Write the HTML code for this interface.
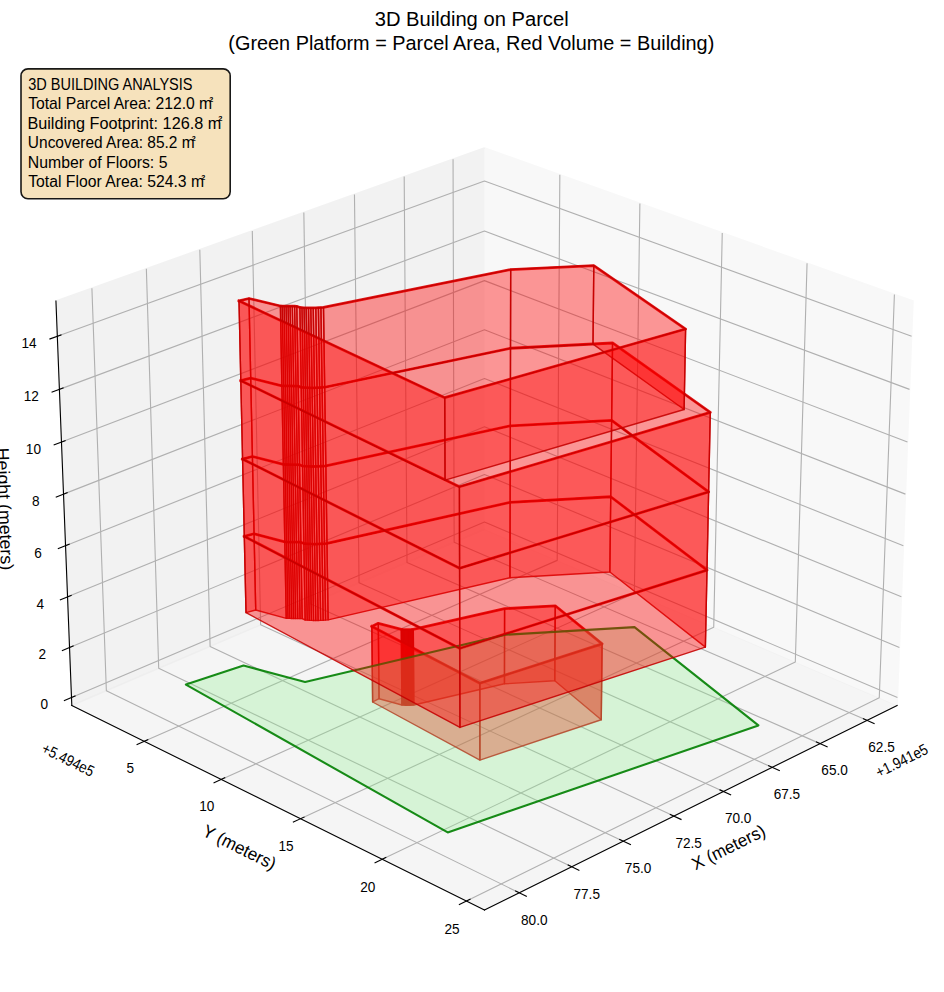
<!DOCTYPE html>
<html><head><meta charset="utf-8"><title>3D Building on Parcel</title>
<style>html,body{margin:0;padding:0;background:#fff;} svg text{font-family:"Liberation Sans", sans-serif;}</style></head>
<body><svg width="944" height="992" viewBox="0 0 944 992" style="display:block">
<rect width="944" height="992" fill="#fff"/>
<svg x="0" y="0" width="944" height="992" viewBox="213.674 62.244 679.680 714.240" version="1.1">
 
 <defs>
  <style type="text/css">*{stroke-linejoin: round; stroke-linecap: butt}</style>
 </defs>
 <g id="figure_1">
  <g id="patch_1">
   <path d="M 0 864 
L 1080 864 
L 1080 0 
L 0 0 
z
" style="fill: #ffffff"/>
  </g>
  <g id="patch_2">
   <path d="M 220.86 768.96 
L 886.14 768.96 
L 886.14 103.68 
L 220.86 103.68 
z
" style="fill: #ffffff"/>
  </g>
  <g id="pane3d_1">
   <g id="patch_3">
    <path d="M 562.49027 443.368424 
L 859.602828 570.134589 
L 871.029594 279.032684 
L 562.49027 168.745698 
" style="fill: #f2f2f2; opacity: 0.5; stroke: #f2f2f2; stroke-linejoin: miter"/>
   </g>
  </g>
  <g id="pane3d_2">
   <g id="patch_4">
    <path d="M 562.49027 443.368424 
L 265.377712 570.134589 
L 253.950947 279.032684 
L 562.49027 168.745698 
" style="fill: #e6e6e6; opacity: 0.5; stroke: #e6e6e6; stroke-linejoin: miter"/>
   </g>
  </g>
  <g id="pane3d_3">
   <g id="patch_5">
    <path d="M 562.49027 443.368424 
L 265.377712 570.134589 
L 562.49027 717.421782 
L 859.602828 570.134589 
" style="fill: #ececec; opacity: 0.5; stroke: #ececec; stroke-linejoin: miter"/>
   </g>
  </g>
  <g id="grid3d_1">
   <g id="Line3DCollection_1">
    <path d="M 837.884604 580.900934 
L 540.658584 452.68314 
L 539.87509 176.829465 
" style="fill: none; stroke: #b0b0b0; stroke-width: 0.8"/>
    <path d="M 804.079607 597.659038 
L 506.71275 467.166483 
L 504.693361 189.405129 
" style="fill: none; stroke: #b0b0b0; stroke-width: 0.8"/>
    <path d="M 769.649914 614.726822 
L 472.184312 481.898401 
L 468.885761 202.20451 
" style="fill: none; stroke: #b0b0b0; stroke-width: 0.8"/>
    <path d="M 734.578047 632.112949 
L 437.05814 496.885348 
L 432.435439 215.233631 
" style="fill: none; stroke: #b0b0b0; stroke-width: 0.8"/>
    <path d="M 698.84587 649.826411 
L 401.318579 512.134003 
L 395.324934 228.498733 
" style="fill: none; stroke: #b0b0b0; stroke-width: 0.8"/>
    <path d="M 662.434559 667.876539 
L 364.949419 527.651284 
L 357.536145 242.006287 
" style="fill: none; stroke: #b0b0b0; stroke-width: 0.8"/>
    <path d="M 625.324566 686.273024 
L 327.933876 543.444351 
L 319.050307 255.763001 
" style="fill: none; stroke: #b0b0b0; stroke-width: 0.8"/>
    <path d="M 587.495587 705.025931 
L 290.254564 559.520621 
L 279.847951 269.775833 
" style="fill: none; stroke: #b0b0b0; stroke-width: 0.8"/>
   </g>
  </g>
  <g id="grid3d_2">
   <g id="Line3DCollection_2">
    <path d="M 616.75297 188.14183 
L 614.85867 465.711947 
L 317.503999 595.97508 
" style="fill: none; stroke: #b0b0b0; stroke-width: 0.8"/>
    <path d="M 674.386291 208.742787 
L 670.426032 489.42034 
L 372.92735 623.450021 
" style="fill: none; stroke: #b0b0b0; stroke-width: 0.8"/>
    <path d="M 733.695285 229.942711 
L 727.551018 513.79331 
L 430.02584 651.755375 
" style="fill: none; stroke: #b0b0b0; stroke-width: 0.8"/>
    <path d="M 794.75411 251.76811 
L 786.300052 538.859197 
L 488.876577 680.929369 
" style="fill: none; stroke: #b0b0b0; stroke-width: 0.8"/>
    <path d="M 857.641366 274.247079 
L 846.743392 564.647977 
L 549.56148 711.012611 
" style="fill: none; stroke: #b0b0b0; stroke-width: 0.8"/>
   </g>
  </g>
  <g id="grid3d_3">
   <g id="Line3DCollection_3">
    <path d="M 265.157478 564.524015 
L 562.49027 438.061555 
L 859.823063 564.524015 
" style="fill: none; stroke: #b0b0b0; stroke-width: 0.8"/>
    <path d="M 263.740208 528.418437 
L 562.49027 403.923514 
L 861.240333 528.418437 
" style="fill: none; stroke: #b0b0b0; stroke-width: 0.8"/>
    <path d="M 262.309362 491.967008 
L 562.49027 369.481467 
L 862.671179 491.967008 
" style="fill: none; stroke: #b0b0b0; stroke-width: 0.8"/>
    <path d="M 260.864744 455.164734 
L 562.49027 334.731336 
L 864.115796 455.164734 
" style="fill: none; stroke: #b0b0b0; stroke-width: 0.8"/>
    <path d="M 259.406155 418.006527 
L 562.49027 299.668969 
L 865.574386 418.006527 
" style="fill: none; stroke: #b0b0b0; stroke-width: 0.8"/>
    <path d="M 257.93339 380.487197 
L 562.49027 264.290137 
L 867.04715 380.487197 
" style="fill: none; stroke: #b0b0b0; stroke-width: 0.8"/>
    <path d="M 256.446243 342.601454 
L 562.49027 228.590538 
L 868.534298 342.601454 
" style="fill: none; stroke: #b0b0b0; stroke-width: 0.8"/>
    <path d="M 254.9445 304.343904 
L 562.49027 192.565789 
L 870.03604 304.343904 
" style="fill: none; stroke: #b0b0b0; stroke-width: 0.8"/>
   </g>
  </g>
  <g id="axis3d_1">
   <g id="line2d_1">
    <path d="M 859.602828 570.134589 
L 562.49027 717.421782 
" style="fill: none; stroke: #000000; stroke-width: 0.8; stroke-linecap: square"/>
   </g>
   <g id="xtick_1">
    <g id="line2d_2">
     <path d="M 835.329233 579.798594 
L 843.004597 583.109604 
" style="fill: none; stroke: #000000; stroke-width: 0.8; stroke-linecap: square"/>
    </g>
   </g>
   <g id="xtick_2">
    <g id="line2d_3">
     <path d="M 801.521399 596.536428 
L 809.205367 599.908359 
" style="fill: none; stroke: #000000; stroke-width: 0.8; stroke-linecap: square"/>
    </g>
   </g>
   <g id="xtick_3">
    <g id="line2d_4">
     <path d="M 767.089201 613.583377 
L 774.78078 617.017927 
" style="fill: none; stroke: #000000; stroke-width: 0.8; stroke-linecap: square"/>
    </g>
   </g>
   <g id="xtick_4">
    <g id="line2d_5">
     <path d="M 732.015179 630.948085 
L 739.713319 634.447013 
" style="fill: none; stroke: #000000; stroke-width: 0.8; stroke-linecap: square"/>
    </g>
   </g>
   <g id="xtick_5">
    <g id="line2d_6">
     <path d="M 696.28122 648.639519 
L 703.984804 652.204654 
" style="fill: none; stroke: #000000; stroke-width: 0.8; stroke-linecap: square"/>
    </g>
   </g>
   <g id="xtick_6">
    <g id="line2d_7">
     <path d="M 659.868521 666.666989 
L 667.576366 670.300227 
" style="fill: none; stroke: #000000; stroke-width: 0.8; stroke-linecap: square"/>
    </g>
   </g>
   <g id="xtick_7">
    <g id="line2d_8">
     <path d="M 622.757559 685.04016 
L 630.46841 688.743472 
" style="fill: none; stroke: #000000; stroke-width: 0.8; stroke-linecap: square"/>
    </g>
   </g>
   <g id="xtick_8">
    <g id="line2d_9">
     <path d="M 584.928053 703.769073 
L 592.64058 707.544506 
" style="fill: none; stroke: #000000; stroke-width: 0.8; stroke-linecap: square"/>
    </g>
   </g>
  </g>
  <g id="axis3d_2">
   <g id="line2d_10">
    <path d="M 265.377712 570.134589 
L 562.49027 717.421782 
" style="fill: none; stroke: #000000; stroke-width: 0.8; stroke-linecap: square"/>
   </g>
   <g id="xtick_9">
    <g id="line2d_11">
     <path d="M 320.061938 594.854515 
L 312.378785 598.2203 
" style="fill: none; stroke: #000000; stroke-width: 0.8; stroke-linecap: square"/>
    </g>
   </g>
   <g id="xtick_10">
    <g id="line2d_12">
     <path d="M 375.489195 622.295854 
L 367.794173 625.76263 
" style="fill: none; stroke: #000000; stroke-width: 0.8; stroke-linecap: square"/>
    </g>
   </g>
   <g id="xtick_11">
    <g id="line2d_13">
     <path d="M 432.590659 650.566071 
L 424.886557 654.138454 
" style="fill: none; stroke: #000000; stroke-width: 0.8; stroke-linecap: square"/>
    </g>
   </g>
   <g id="xtick_12">
    <g id="line2d_14">
     <path d="M 491.44335 679.7033 
L 483.733233 683.386188 
" style="fill: none; stroke: #000000; stroke-width: 0.8; stroke-linecap: square"/>
    </g>
   </g>
   <g id="xtick_13">
    <g id="line2d_15">
     <path d="M 552.129084 709.748044 
L 544.416317 713.546648 
" style="fill: none; stroke: #000000; stroke-width: 0.8; stroke-linecap: square"/>
    </g>
   </g>
  </g>
  <g id="axis3d_3">
   <g id="line2d_16">
    <path d="M 265.377712 570.134589 
L 253.950947 279.032684 
" style="fill: none; stroke: #000000; stroke-width: 0.8; stroke-linecap: square"/>
   </g>
   <g id="xtick_14">
    <g id="line2d_17">
     <path d="M 267.712854 563.437155 
L 260.037523 566.701649 
" style="fill: none; stroke: #000000; stroke-width: 0.8; stroke-linecap: square"/>
    </g>
   </g>
   <g id="xtick_15">
    <g id="line2d_18">
     <path d="M 266.30861 527.348134 
L 258.59411 530.562915 
" style="fill: none; stroke: #000000; stroke-width: 0.8; stroke-linecap: square"/>
    </g>
   </g>
   <g id="xtick_16">
    <g id="line2d_19">
     <path d="M 264.890923 490.91363 
L 257.136853 494.077593 
" style="fill: none; stroke: #000000; stroke-width: 0.8; stroke-linecap: square"/>
    </g>
   </g>
   <g id="xtick_17">
    <g id="line2d_20">
     <path d="M 263.4596 454.128657 
L 255.665553 457.240674 
" style="fill: none; stroke: #000000; stroke-width: 0.8; stroke-linecap: square"/>
    </g>
   </g>
   <g id="xtick_18">
    <g id="line2d_21">
     <path d="M 262.014442 416.988135 
L 254.180006 420.047049 
" style="fill: none; stroke: #000000; stroke-width: 0.8; stroke-linecap: square"/>
    </g>
   </g>
   <g id="xtick_19">
    <g id="line2d_22">
     <path d="M 260.555248 379.486884 
L 252.680004 382.491512 
" style="fill: none; stroke: #000000; stroke-width: 0.8; stroke-linecap: square"/>
    </g>
   </g>
   <g id="xtick_20">
    <g id="line2d_23">
     <path d="M 259.081812 341.619623 
L 251.165335 344.568756 
" style="fill: none; stroke: #000000; stroke-width: 0.8; stroke-linecap: square"/>
    </g>
   </g>
   <g id="xtick_21">
    <g id="line2d_24">
     <path d="M 257.593925 303.380966 
L 249.635783 306.273368 
" style="fill: none; stroke: #000000; stroke-width: 0.8; stroke-linecap: square"/>
    </g>
   </g>
  </g>
  <g id="axes_1">
   <g id="line2d_25">
    <path d="M 481.391568 513.322707 
L 486.0504 511.02 
L 502.6104 515.412 
L 503.4744 515.478748 
L 504.3384 515.538962 
L 505.2024 515.586748 
L 506.0664 515.617428 
L 506.9304 515.628 
L 507.7944 515.617428 
L 508.6584 515.586748 
L 509.5224 515.538962 
L 510.3864 515.478748 
L 511.2504 515.412 
L 576.980005 500.510174 
L 613.455499 498.402698 
L 647.185732 525.797838 
L 559.178183 554.162051 
L 481.391568 513.322707 
" clip-path="url(#p2ee48c2b78)" style="fill: none; stroke: #e00000; stroke-opacity: 0.9; stroke-width: 2; stroke-linecap: square"/>
   </g>
   <g id="line2d_26">
    <path d="M 389.566743 448.4457 
L 396.607387 446.567374 
L 418.739208 452.436839 
L 420.007241 452.466184 
L 421.345716 452.495529 
L 422.754633 452.524874 
L 424.163549 452.554219 
L 425.572464 452.583564 
L 427.122264 452.612909 
L 428.742506 452.642254 
L 430.292304 452.671599 
L 432.477623 453.610625 
L 433.957098 453.723704 
L 435.436548 453.824948 
L 436.9864 453.903681 
L 438.536199 453.951429 
L 440.15638 453.962753 
L 441.846942 453.935779 
L 443.678333 453.87238 
L 445.50968 453.777998 
L 447.270556 453.661103 
L 449.101861 453.532373 
L 580.970412 423.90573 
L 653.405768 419.903237 
L 722.712946 472.685665 
L 544.716289 529.11016 
L 389.566743 448.4457 
" clip-path="url(#p2ee48c2b78)" style="fill: none; stroke: #e00000; stroke-opacity: 0.9; stroke-width: 2; stroke-linecap: square"/>
   </g>
   <g id="line2d_27">
    <path d="M 388.314369 392.746446 
L 395.407343 390.916592 
L 417.695647 396.634688 
L 418.972867 396.663277 
L 420.321041 396.691866 
L 421.740169 396.720455 
L 423.159296 396.749044 
L 424.578423 396.777633 
L 426.139457 396.806222 
L 427.771446 396.83481 
L 429.332479 396.863399 
L 431.53314 397.778237 
L 433.0233 397.888404 
L 434.513444 397.987041 
L 436.074513 398.063746 
L 437.635547 398.110264 
L 439.267494 398.121297 
L 440.970354 398.095017 
L 442.815084 398.033251 
L 444.659785 397.941299 
L 446.433512 397.827415 
L 448.278184 397.702001 
L 581.102304 368.842057 
L 654.053063 364.943703 
L 723.890023 416.363512 
L 544.581402 471.356977 
L 388.314369 392.746446 
" clip-path="url(#p2ee48c2b78)" style="fill: none; stroke: #e00000; stroke-opacity: 0.9; stroke-width: 2; stroke-linecap: square"/>
   </g>
   <g id="line2d_28">
    <path d="M 387.043722 336.234518 
L 394.189809 334.454754 
L 416.636823 340.01642 
L 417.923365 340.044228 
L 419.281379 340.072035 
L 420.710867 340.099843 
L 422.140355 340.12765 
L 423.569842 340.155458 
L 425.142275 340.183266 
L 426.786182 340.211073 
L 428.358614 340.238881 
L 430.574834 341.128719 
L 432.075835 341.235876 
L 433.576827 341.331818 
L 435.149278 341.406427 
L 436.721711 341.451675 
L 438.365597 341.462406 
L 440.080935 341.436845 
L 441.9392 341.376766 
L 443.79745 341.287326 
L 445.584217 341.176554 
L 447.442452 341.054566 
L 581.236092 312.986762 
L 654.709642 309.19596 
L 725.084523 359.207693 
L 544.444452 412.720512 
L 387.043722 336.234518 
" clip-path="url(#p2ee48c2b78)" style="fill: none; stroke: #e00000; stroke-opacity: 0.9; stroke-width: 2; stroke-linecap: square"/>
   </g>
   <g id="line2d_29">
    <path d="M 385.7544 278.892 
L 392.9544 277.164 
L 415.5624 282.564 
L 416.8584 282.591 
L 418.2264 282.618 
L 419.6664 282.645 
L 421.1064 282.672 
L 422.5464 282.699 
L 424.1304 282.726 
L 425.7864 282.753 
L 427.3704 282.78 
L 429.6024 283.644 
L 431.1144 283.748046 
L 432.6264 283.841203 
L 434.2104 283.913646 
L 435.7944 283.95758 
L 437.4504 283.968 
L 439.1784 283.94318 
L 441.0504 283.884846 
L 442.9224 283.798003 
L 444.7224 283.690446 
L 446.5944 283.572 
L 581.371817 256.32265 
L 641.212655 253.430659 
L 707.31473 299.138283 
L 533.906954 348.584156 
L 385.7544 278.892 
" clip-path="url(#p2ee48c2b78)" style="fill: none; stroke: #e00000; stroke-opacity: 0.9; stroke-width: 2; stroke-linecap: square"/>
   </g>
   <g id="Poly3DCollection_1">
    <path d="M 576.877462 554.568841 
L 613.095252 552.411624 
L 613.455499 498.402698 
L 576.980005 500.510174 
z
" clip-path="url(#p2ee48c2b78)" style="fill: #ff0000; fill-opacity: 0.4; stroke: #c40000; stroke-opacity: 0.87"/>
    <path d="M 511.616088 569.821339 
L 576.877462 554.568841 
L 576.980005 500.510174 
L 511.2504 515.412 
z
" clip-path="url(#p2ee48c2b78)" style="fill: #ff0000; fill-opacity: 0.4; stroke: #c40000; stroke-opacity: 0.87"/>
    <path d="M 613.095252 552.411624 
L 646.577748 580.450491 
L 647.185732 525.797838 
L 613.455499 498.402698 
z
" clip-path="url(#p2ee48c2b78)" style="fill: #ff0000; fill-opacity: 0.4; stroke: #c40000; stroke-opacity: 0.87"/>
    <path d="M 481.969671 567.682991 
L 486.594586 565.326177 
L 486.0504 511.02 
L 481.391568 513.322707 
z
" clip-path="url(#p2ee48c2b78)" style="fill: #ff0000; fill-opacity: 0.4; stroke: #c40000; stroke-opacity: 0.87"/>
    <path d="M 486.594586 565.326177 
L 503.037749 569.821339 
L 502.6104 515.412 
L 486.0504 511.02 
z
" clip-path="url(#p2ee48c2b78)" style="fill: #ff0000; fill-opacity: 0.4; stroke: #c40000; stroke-opacity: 0.87"/>
    <path d="M 503.037749 569.821339 
L 503.895599 569.889653 
L 503.4744 515.478748 
L 502.6104 515.412 
z
" clip-path="url(#p2ee48c2b78)" style="fill: #ff0000; fill-opacity: 0.4; stroke: #c40000; stroke-opacity: 0.87"/>
    <path d="M 510.758268 569.889653 
L 511.616088 569.821339 
L 511.2504 515.412 
L 510.3864 515.478748 
z
" clip-path="url(#p2ee48c2b78)" style="fill: #ff0000; fill-opacity: 0.4; stroke: #c40000; stroke-opacity: 0.87"/>
    <path d="M 503.895599 569.889653 
L 504.753447 569.95128 
L 504.3384 515.538962 
L 503.4744 515.478748 
z
" clip-path="url(#p2ee48c2b78)" style="fill: #ff0000; fill-opacity: 0.4; stroke: #c40000; stroke-opacity: 0.87"/>
    <path d="M 509.900447 569.95128 
L 510.758268 569.889653 
L 510.3864 515.478748 
L 509.5224 515.538962 
z
" clip-path="url(#p2ee48c2b78)" style="fill: #ff0000; fill-opacity: 0.4; stroke: #c40000; stroke-opacity: 0.87"/>
    <path d="M 504.753447 569.95128 
L 505.611291 570.000188 
L 505.2024 515.586748 
L 504.3384 515.538962 
z
" clip-path="url(#p2ee48c2b78)" style="fill: #ff0000; fill-opacity: 0.4; stroke: #c40000; stroke-opacity: 0.87"/>
    <path d="M 509.042624 570.000188 
L 509.900447 569.95128 
L 509.5224 515.538962 
L 508.6584 515.586748 
z
" clip-path="url(#p2ee48c2b78)" style="fill: #ff0000; fill-opacity: 0.4; stroke: #c40000; stroke-opacity: 0.87"/>
    <path d="M 508.184797 570.031589 
L 509.042624 570.000188 
L 508.6584 515.586748 
L 507.7944 515.617428 
z
" clip-path="url(#p2ee48c2b78)" style="fill: #ff0000; fill-opacity: 0.4; stroke: #c40000; stroke-opacity: 0.87"/>
    <path d="M 505.611291 570.000188 
L 506.469131 570.031589 
L 506.0664 515.617428 
L 505.2024 515.586748 
z
" clip-path="url(#p2ee48c2b78)" style="fill: #ff0000; fill-opacity: 0.4; stroke: #c40000; stroke-opacity: 0.87"/>
    <path d="M 507.326967 570.042408 
L 508.184797 570.031589 
L 507.7944 515.617428 
L 506.9304 515.628 
z
" clip-path="url(#p2ee48c2b78)" style="fill: #ff0000; fill-opacity: 0.4; stroke: #c40000; stroke-opacity: 0.87"/>
    <path d="M 506.469131 570.031589 
L 507.326967 570.042408 
L 506.9304 515.628 
L 506.0664 515.617428 
z
" clip-path="url(#p2ee48c2b78)" style="fill: #ff0000; fill-opacity: 0.4; stroke: #c40000; stroke-opacity: 0.87"/>
    <path d="M 559.202336 609.474659 
L 481.969671 567.682991 
L 481.391568 513.322707 
L 559.178183 554.162051 
z
" clip-path="url(#p2ee48c2b78)" style="fill: #ff0000; fill-opacity: 0.4; stroke: #c40000; stroke-opacity: 0.87"/>
    <path d="M 646.577748 580.450491 
L 559.202336 609.474659 
L 559.178183 554.162051 
L 647.185732 525.797838 
z
" clip-path="url(#p2ee48c2b78)" style="fill: #ff0000; fill-opacity: 0.4; stroke: #c40000; stroke-opacity: 0.87"/>
   </g>
   <g id="Poly3DCollection_2">
    <defs>
     <path id="mdb0fccb0ea" d="M 347.5224 -308.844 
L 388.9944 -322.524 
L 433.3464 -310.716 
L 577.5624 -344.7 
L 670.5144 -350.244 
L 759.7224 -279.468 
L 536.0184 -202.428 
z
" style="stroke: #008000; stroke-opacity: 0.9; stroke-width: 1.5"/>
    </defs>
    <g clip-path="url(#p2ee48c2b78)">
     <use href="#mdb0fccb0ea" x="0" y="864" style="fill: #90ee90; fill-opacity: 0.3; stroke: #008000; stroke-opacity: 0.9; stroke-width: 1.5"/>
    </g>
   </g>
   <g id="Poly3DCollection_3">
    <path d="M 580.840377 478.194491 
L 652.76756 474.091162 
L 653.405768 419.903237 
L 580.970412 423.90573 
z
" clip-path="url(#p2ee48c2b78)" style="fill: #ff0000; fill-opacity: 0.4; stroke: #c40000; stroke-opacity: 0.87"/>
    <path d="M 449.913743 508.563234 
L 580.840377 478.194491 
L 580.970412 423.90573 
L 449.101861 453.532373 
z
" clip-path="url(#p2ee48c2b78)" style="fill: #ff0000; fill-opacity: 0.4; stroke: #c40000; stroke-opacity: 0.87"/>
    <path d="M 652.76756 474.091162 
L 721.552914 528.192259 
L 722.712946 472.685665 
L 653.405768 419.903237 
z
" clip-path="url(#p2ee48c2b78)" style="fill: #ff0000; fill-opacity: 0.4; stroke: #c40000; stroke-opacity: 0.87"/>
    <path d="M 390.801236 503.349686 
L 397.790317 501.424454 
L 396.607387 446.567374 
L 389.566743 448.4457 
z
" clip-path="url(#p2ee48c2b78)" style="fill: #ff0000; fill-opacity: 0.4; stroke: #c40000; stroke-opacity: 0.87"/>
    <path d="M 397.790317 501.424454 
L 419.767835 507.440393 
L 418.739208 452.436839 
L 396.607387 446.567374 
z
" clip-path="url(#p2ee48c2b78)" style="fill: #ff0000; fill-opacity: 0.4; stroke: #c40000; stroke-opacity: 0.87"/>
    <path d="M 419.767835 507.440393 
L 421.026812 507.47047 
L 420.007241 452.466184 
L 418.739208 452.436839 
z
" clip-path="url(#p2ee48c2b78)" style="fill: #ff0000; fill-opacity: 0.4; stroke: #c40000; stroke-opacity: 0.87"/>
    <path d="M 421.026812 507.47047 
L 422.355726 507.500546 
L 421.345716 452.495529 
L 420.007241 452.466184 
z
" clip-path="url(#p2ee48c2b78)" style="fill: #ff0000; fill-opacity: 0.4; stroke: #c40000; stroke-opacity: 0.87"/>
    <path d="M 422.355726 507.500546 
L 423.754579 507.530623 
L 422.754633 452.524874 
L 421.345716 452.495529 
z
" clip-path="url(#p2ee48c2b78)" style="fill: #ff0000; fill-opacity: 0.4; stroke: #c40000; stroke-opacity: 0.87"/>
    <path d="M 423.754579 507.530623 
L 425.153429 507.5607 
L 424.163549 452.554219 
L 422.754633 452.524874 
z
" clip-path="url(#p2ee48c2b78)" style="fill: #ff0000; fill-opacity: 0.4; stroke: #c40000; stroke-opacity: 0.87"/>
    <path d="M 425.153429 507.5607 
L 426.552279 507.590776 
L 425.572464 452.583564 
L 424.163549 452.554219 
z
" clip-path="url(#p2ee48c2b78)" style="fill: #ff0000; fill-opacity: 0.4; stroke: #c40000; stroke-opacity: 0.87"/>
    <path d="M 426.552279 507.590776 
L 428.091005 507.620853 
L 427.122264 452.612909 
L 425.572464 452.583564 
z
" clip-path="url(#p2ee48c2b78)" style="fill: #ff0000; fill-opacity: 0.4; stroke: #c40000; stroke-opacity: 0.87"/>
    <path d="M 428.091005 507.620853 
L 429.699668 507.650929 
L 428.742506 452.642254 
L 427.122264 452.612909 
z
" clip-path="url(#p2ee48c2b78)" style="fill: #ff0000; fill-opacity: 0.4; stroke: #c40000; stroke-opacity: 0.87"/>
    <path d="M 429.699668 507.650929 
L 431.238391 507.681005 
L 430.292304 452.671599 
L 428.742506 452.642254 
z
" clip-path="url(#p2ee48c2b78)" style="fill: #ff0000; fill-opacity: 0.4; stroke: #c40000; stroke-opacity: 0.87"/>
    <path d="M 431.238391 507.681005 
L 433.40858 508.643435 
L 432.477623 453.610625 
L 430.292304 452.671599 
z
" clip-path="url(#p2ee48c2b78)" style="fill: #ff0000; fill-opacity: 0.4; stroke: #c40000; stroke-opacity: 0.87"/>
    <path d="M 448.095612 508.695172 
L 449.913743 508.563234 
L 449.101861 453.532373 
L 447.270556 453.661103 
z
" clip-path="url(#p2ee48c2b78)" style="fill: #ff0000; fill-opacity: 0.4; stroke: #c40000; stroke-opacity: 0.87"/>
    <path d="M 433.40858 508.643435 
L 434.877522 508.759333 
L 433.957098 453.723704 
L 432.477623 453.610625 
z
" clip-path="url(#p2ee48c2b78)" style="fill: #ff0000; fill-opacity: 0.4; stroke: #c40000; stroke-opacity: 0.87"/>
    <path d="M 446.347403 508.814979 
L 448.095612 508.695172 
L 447.270556 453.661103 
L 445.50968 453.777998 
z
" clip-path="url(#p2ee48c2b78)" style="fill: #ff0000; fill-opacity: 0.4; stroke: #c40000; stroke-opacity: 0.87"/>
    <path d="M 434.877522 508.759333 
L 436.346432 508.8631 
L 435.436548 453.824948 
L 433.957098 453.723704 
z
" clip-path="url(#p2ee48c2b78)" style="fill: #ff0000; fill-opacity: 0.4; stroke: #c40000; stroke-opacity: 0.87"/>
    <path d="M 444.529217 508.911714 
L 446.347403 508.814979 
L 445.50968 453.777998 
L 443.678333 453.87238 
z
" clip-path="url(#p2ee48c2b78)" style="fill: #ff0000; fill-opacity: 0.4; stroke: #c40000; stroke-opacity: 0.87"/>
    <path d="M 436.346432 508.8631 
L 437.885226 508.943794 
L 436.9864 453.903681 
L 435.436548 453.824948 
z
" clip-path="url(#p2ee48c2b78)" style="fill: #ff0000; fill-opacity: 0.4; stroke: #c40000; stroke-opacity: 0.87"/>
    <path d="M 442.710974 508.976692 
L 444.529217 508.911714 
L 443.678333 453.87238 
L 441.846942 453.935779 
z
" clip-path="url(#p2ee48c2b78)" style="fill: #ff0000; fill-opacity: 0.4; stroke: #c40000; stroke-opacity: 0.87"/>
    <path d="M 437.885226 508.943794 
L 439.42395 508.992732 
L 438.536199 453.951429 
L 436.9864 453.903681 
z
" clip-path="url(#p2ee48c2b78)" style="fill: #ff0000; fill-opacity: 0.4; stroke: #c40000; stroke-opacity: 0.87"/>
    <path d="M 441.032533 509.004339 
L 442.710974 508.976692 
L 441.846942 453.935779 
L 440.15638 453.962753 
z
" clip-path="url(#p2ee48c2b78)" style="fill: #ff0000; fill-opacity: 0.4; stroke: #c40000; stroke-opacity: 0.87"/>
    <path d="M 439.42395 508.992732 
L 441.032533 509.004339 
L 440.15638 453.962753 
L 438.536199 453.951429 
z
" clip-path="url(#p2ee48c2b78)" style="fill: #ff0000; fill-opacity: 0.4; stroke: #c40000; stroke-opacity: 0.87"/>
    <path d="M 544.849159 585.999868 
L 390.801236 503.349686 
L 389.566743 448.4457 
L 544.716289 529.11016 
z
" clip-path="url(#p2ee48c2b78)" style="fill: #ff0000; fill-opacity: 0.4; stroke: #c40000; stroke-opacity: 0.87"/>
    <path d="M 721.552914 528.192259 
L 544.849159 585.999868 
L 544.716289 529.11016 
L 722.712946 472.685665 
z
" clip-path="url(#p2ee48c2b78)" style="fill: #ff0000; fill-opacity: 0.4; stroke: #c40000; stroke-opacity: 0.87"/>
   </g>
   <g id="Poly3DCollection_4">
    <path d="M 580.970412 423.90573 
L 653.405768 419.903237 
L 654.053063 364.943703 
L 581.102304 368.842057 
z
" clip-path="url(#p2ee48c2b78)" style="fill: #ff0000; fill-opacity: 0.4; stroke: #c40000; stroke-opacity: 0.87"/>
    <path d="M 449.101861 453.532373 
L 580.970412 423.90573 
L 581.102304 368.842057 
L 448.278184 397.702001 
z
" clip-path="url(#p2ee48c2b78)" style="fill: #ff0000; fill-opacity: 0.4; stroke: #c40000; stroke-opacity: 0.87"/>
    <path d="M 653.405768 419.903237 
L 722.712946 472.685665 
L 723.890023 416.363512 
L 654.053063 364.943703 
z
" clip-path="url(#p2ee48c2b78)" style="fill: #ff0000; fill-opacity: 0.4; stroke: #c40000; stroke-opacity: 0.87"/>
    <path d="M 389.566743 448.4457 
L 396.607387 446.567374 
L 395.407343 390.916592 
L 388.314369 392.746446 
z
" clip-path="url(#p2ee48c2b78)" style="fill: #ff0000; fill-opacity: 0.4; stroke: #c40000; stroke-opacity: 0.87"/>
    <path d="M 396.607387 446.567374 
L 418.739208 452.436839 
L 417.695647 396.634688 
L 395.407343 390.916592 
z
" clip-path="url(#p2ee48c2b78)" style="fill: #ff0000; fill-opacity: 0.4; stroke: #c40000; stroke-opacity: 0.87"/>
    <path d="M 418.739208 452.436839 
L 420.007241 452.466184 
L 418.972867 396.663277 
L 417.695647 396.634688 
z
" clip-path="url(#p2ee48c2b78)" style="fill: #ff0000; fill-opacity: 0.4; stroke: #c40000; stroke-opacity: 0.87"/>
    <path d="M 420.007241 452.466184 
L 421.345716 452.495529 
L 420.321041 396.691866 
L 418.972867 396.663277 
z
" clip-path="url(#p2ee48c2b78)" style="fill: #ff0000; fill-opacity: 0.4; stroke: #c40000; stroke-opacity: 0.87"/>
    <path d="M 421.345716 452.495529 
L 422.754633 452.524874 
L 421.740169 396.720455 
L 420.321041 396.691866 
z
" clip-path="url(#p2ee48c2b78)" style="fill: #ff0000; fill-opacity: 0.4; stroke: #c40000; stroke-opacity: 0.87"/>
    <path d="M 422.754633 452.524874 
L 424.163549 452.554219 
L 423.159296 396.749044 
L 421.740169 396.720455 
z
" clip-path="url(#p2ee48c2b78)" style="fill: #ff0000; fill-opacity: 0.4; stroke: #c40000; stroke-opacity: 0.87"/>
    <path d="M 424.163549 452.554219 
L 425.572464 452.583564 
L 424.578423 396.777633 
L 423.159296 396.749044 
z
" clip-path="url(#p2ee48c2b78)" style="fill: #ff0000; fill-opacity: 0.4; stroke: #c40000; stroke-opacity: 0.87"/>
    <path d="M 425.572464 452.583564 
L 427.122264 452.612909 
L 426.139457 396.806222 
L 424.578423 396.777633 
z
" clip-path="url(#p2ee48c2b78)" style="fill: #ff0000; fill-opacity: 0.4; stroke: #c40000; stroke-opacity: 0.87"/>
    <path d="M 427.122264 452.612909 
L 428.742506 452.642254 
L 427.771446 396.83481 
L 426.139457 396.806222 
z
" clip-path="url(#p2ee48c2b78)" style="fill: #ff0000; fill-opacity: 0.4; stroke: #c40000; stroke-opacity: 0.87"/>
    <path d="M 428.742506 452.642254 
L 430.292304 452.671599 
L 429.332479 396.863399 
L 427.771446 396.83481 
z
" clip-path="url(#p2ee48c2b78)" style="fill: #ff0000; fill-opacity: 0.4; stroke: #c40000; stroke-opacity: 0.87"/>
    <path d="M 430.292304 452.671599 
L 432.477623 453.610625 
L 431.53314 397.778237 
L 429.332479 396.863399 
z
" clip-path="url(#p2ee48c2b78)" style="fill: #ff0000; fill-opacity: 0.4; stroke: #c40000; stroke-opacity: 0.87"/>
    <path d="M 447.270556 453.661103 
L 449.101861 453.532373 
L 448.278184 397.702001 
L 446.433512 397.827415 
z
" clip-path="url(#p2ee48c2b78)" style="fill: #ff0000; fill-opacity: 0.4; stroke: #c40000; stroke-opacity: 0.87"/>
    <path d="M 432.477623 453.610625 
L 433.957098 453.723704 
L 433.0233 397.888404 
L 431.53314 397.778237 
z
" clip-path="url(#p2ee48c2b78)" style="fill: #ff0000; fill-opacity: 0.4; stroke: #c40000; stroke-opacity: 0.87"/>
    <path d="M 445.50968 453.777998 
L 447.270556 453.661103 
L 446.433512 397.827415 
L 444.659785 397.941299 
z
" clip-path="url(#p2ee48c2b78)" style="fill: #ff0000; fill-opacity: 0.4; stroke: #c40000; stroke-opacity: 0.87"/>
    <path d="M 433.957098 453.723704 
L 435.436548 453.824948 
L 434.513444 397.987041 
L 433.0233 397.888404 
z
" clip-path="url(#p2ee48c2b78)" style="fill: #ff0000; fill-opacity: 0.4; stroke: #c40000; stroke-opacity: 0.87"/>
    <path d="M 443.678333 453.87238 
L 445.50968 453.777998 
L 444.659785 397.941299 
L 442.815084 398.033251 
z
" clip-path="url(#p2ee48c2b78)" style="fill: #ff0000; fill-opacity: 0.4; stroke: #c40000; stroke-opacity: 0.87"/>
    <path d="M 435.436548 453.824948 
L 436.9864 453.903681 
L 436.074513 398.063746 
L 434.513444 397.987041 
z
" clip-path="url(#p2ee48c2b78)" style="fill: #ff0000; fill-opacity: 0.4; stroke: #c40000; stroke-opacity: 0.87"/>
    <path d="M 441.846942 453.935779 
L 443.678333 453.87238 
L 442.815084 398.033251 
L 440.970354 398.095017 
z
" clip-path="url(#p2ee48c2b78)" style="fill: #ff0000; fill-opacity: 0.4; stroke: #c40000; stroke-opacity: 0.87"/>
    <path d="M 436.9864 453.903681 
L 438.536199 453.951429 
L 437.635547 398.110264 
L 436.074513 398.063746 
z
" clip-path="url(#p2ee48c2b78)" style="fill: #ff0000; fill-opacity: 0.4; stroke: #c40000; stroke-opacity: 0.87"/>
    <path d="M 440.15638 453.962753 
L 441.846942 453.935779 
L 440.970354 398.095017 
L 439.267494 398.121297 
z
" clip-path="url(#p2ee48c2b78)" style="fill: #ff0000; fill-opacity: 0.4; stroke: #c40000; stroke-opacity: 0.87"/>
    <path d="M 438.536199 453.951429 
L 440.15638 453.962753 
L 439.267494 398.121297 
L 437.635547 398.110264 
z
" clip-path="url(#p2ee48c2b78)" style="fill: #ff0000; fill-opacity: 0.4; stroke: #c40000; stroke-opacity: 0.87"/>
    <path d="M 544.716289 529.11016 
L 389.566743 448.4457 
L 388.314369 392.746446 
L 544.581402 471.356977 
z
" clip-path="url(#p2ee48c2b78)" style="fill: #ff0000; fill-opacity: 0.4; stroke: #c40000; stroke-opacity: 0.87"/>
    <path d="M 722.712946 472.685665 
L 544.716289 529.11016 
L 544.581402 471.356977 
L 723.890023 416.363512 
z
" clip-path="url(#p2ee48c2b78)" style="fill: #ff0000; fill-opacity: 0.4; stroke: #c40000; stroke-opacity: 0.87"/>
   </g>
   <g id="Poly3DCollection_5">
    <path d="M 581.102304 368.842057 
L 654.053063 364.943703 
L 654.709642 309.19596 
L 581.236092 312.986762 
z
" clip-path="url(#p2ee48c2b78)" style="fill: #ff0000; fill-opacity: 0.4; stroke: #c40000; stroke-opacity: 0.87"/>
    <path d="M 448.278184 397.702001 
L 581.102304 368.842057 
L 581.236092 312.986762 
L 447.442452 341.054566 
z
" clip-path="url(#p2ee48c2b78)" style="fill: #ff0000; fill-opacity: 0.4; stroke: #c40000; stroke-opacity: 0.87"/>
    <path d="M 654.053063 364.943703 
L 723.890023 416.363512 
L 725.084523 359.207693 
L 654.709642 309.19596 
z
" clip-path="url(#p2ee48c2b78)" style="fill: #ff0000; fill-opacity: 0.4; stroke: #c40000; stroke-opacity: 0.87"/>
    <path d="M 388.314369 392.746446 
L 395.407343 390.916592 
L 394.189809 334.454754 
L 387.043722 336.234518 
z
" clip-path="url(#p2ee48c2b78)" style="fill: #ff0000; fill-opacity: 0.4; stroke: #c40000; stroke-opacity: 0.87"/>
    <path d="M 395.407343 390.916592 
L 417.695647 396.634688 
L 416.636823 340.01642 
L 394.189809 334.454754 
z
" clip-path="url(#p2ee48c2b78)" style="fill: #ff0000; fill-opacity: 0.4; stroke: #c40000; stroke-opacity: 0.87"/>
    <path d="M 417.695647 396.634688 
L 418.972867 396.663277 
L 417.923365 340.044228 
L 416.636823 340.01642 
z
" clip-path="url(#p2ee48c2b78)" style="fill: #ff0000; fill-opacity: 0.4; stroke: #c40000; stroke-opacity: 0.87"/>
    <path d="M 418.972867 396.663277 
L 420.321041 396.691866 
L 419.281379 340.072035 
L 417.923365 340.044228 
z
" clip-path="url(#p2ee48c2b78)" style="fill: #ff0000; fill-opacity: 0.4; stroke: #c40000; stroke-opacity: 0.87"/>
    <path d="M 420.321041 396.691866 
L 421.740169 396.720455 
L 420.710867 340.099843 
L 419.281379 340.072035 
z
" clip-path="url(#p2ee48c2b78)" style="fill: #ff0000; fill-opacity: 0.4; stroke: #c40000; stroke-opacity: 0.87"/>
    <path d="M 421.740169 396.720455 
L 423.159296 396.749044 
L 422.140355 340.12765 
L 420.710867 340.099843 
z
" clip-path="url(#p2ee48c2b78)" style="fill: #ff0000; fill-opacity: 0.4; stroke: #c40000; stroke-opacity: 0.87"/>
    <path d="M 423.159296 396.749044 
L 424.578423 396.777633 
L 423.569842 340.155458 
L 422.140355 340.12765 
z
" clip-path="url(#p2ee48c2b78)" style="fill: #ff0000; fill-opacity: 0.4; stroke: #c40000; stroke-opacity: 0.87"/>
    <path d="M 424.578423 396.777633 
L 426.139457 396.806222 
L 425.142275 340.183266 
L 423.569842 340.155458 
z
" clip-path="url(#p2ee48c2b78)" style="fill: #ff0000; fill-opacity: 0.4; stroke: #c40000; stroke-opacity: 0.87"/>
    <path d="M 426.139457 396.806222 
L 427.771446 396.83481 
L 426.786182 340.211073 
L 425.142275 340.183266 
z
" clip-path="url(#p2ee48c2b78)" style="fill: #ff0000; fill-opacity: 0.4; stroke: #c40000; stroke-opacity: 0.87"/>
    <path d="M 427.771446 396.83481 
L 429.332479 396.863399 
L 428.358614 340.238881 
L 426.786182 340.211073 
z
" clip-path="url(#p2ee48c2b78)" style="fill: #ff0000; fill-opacity: 0.4; stroke: #c40000; stroke-opacity: 0.87"/>
    <path d="M 429.332479 396.863399 
L 431.53314 397.778237 
L 430.574834 341.128719 
L 428.358614 340.238881 
z
" clip-path="url(#p2ee48c2b78)" style="fill: #ff0000; fill-opacity: 0.4; stroke: #c40000; stroke-opacity: 0.87"/>
    <path d="M 446.433512 397.827415 
L 448.278184 397.702001 
L 447.442452 341.054566 
L 445.584217 341.176554 
z
" clip-path="url(#p2ee48c2b78)" style="fill: #ff0000; fill-opacity: 0.4; stroke: #c40000; stroke-opacity: 0.87"/>
    <path d="M 431.53314 397.778237 
L 433.0233 397.888404 
L 432.075835 341.235876 
L 430.574834 341.128719 
z
" clip-path="url(#p2ee48c2b78)" style="fill: #ff0000; fill-opacity: 0.4; stroke: #c40000; stroke-opacity: 0.87"/>
    <path d="M 444.659785 397.941299 
L 446.433512 397.827415 
L 445.584217 341.176554 
L 443.79745 341.287326 
z
" clip-path="url(#p2ee48c2b78)" style="fill: #ff0000; fill-opacity: 0.4; stroke: #c40000; stroke-opacity: 0.87"/>
    <path d="M 433.0233 397.888404 
L 434.513444 397.987041 
L 433.576827 341.331818 
L 432.075835 341.235876 
z
" clip-path="url(#p2ee48c2b78)" style="fill: #ff0000; fill-opacity: 0.4; stroke: #c40000; stroke-opacity: 0.87"/>
    <path d="M 442.815084 398.033251 
L 444.659785 397.941299 
L 443.79745 341.287326 
L 441.9392 341.376766 
z
" clip-path="url(#p2ee48c2b78)" style="fill: #ff0000; fill-opacity: 0.4; stroke: #c40000; stroke-opacity: 0.87"/>
    <path d="M 434.513444 397.987041 
L 436.074513 398.063746 
L 435.149278 341.406427 
L 433.576827 341.331818 
z
" clip-path="url(#p2ee48c2b78)" style="fill: #ff0000; fill-opacity: 0.4; stroke: #c40000; stroke-opacity: 0.87"/>
    <path d="M 440.970354 398.095017 
L 442.815084 398.033251 
L 441.9392 341.376766 
L 440.080935 341.436845 
z
" clip-path="url(#p2ee48c2b78)" style="fill: #ff0000; fill-opacity: 0.4; stroke: #c40000; stroke-opacity: 0.87"/>
    <path d="M 436.074513 398.063746 
L 437.635547 398.110264 
L 436.721711 341.451675 
L 435.149278 341.406427 
z
" clip-path="url(#p2ee48c2b78)" style="fill: #ff0000; fill-opacity: 0.4; stroke: #c40000; stroke-opacity: 0.87"/>
    <path d="M 439.267494 398.121297 
L 440.970354 398.095017 
L 440.080935 341.436845 
L 438.365597 341.462406 
z
" clip-path="url(#p2ee48c2b78)" style="fill: #ff0000; fill-opacity: 0.4; stroke: #c40000; stroke-opacity: 0.87"/>
    <path d="M 437.635547 398.110264 
L 439.267494 398.121297 
L 438.365597 341.462406 
L 436.721711 341.451675 
z
" clip-path="url(#p2ee48c2b78)" style="fill: #ff0000; fill-opacity: 0.4; stroke: #c40000; stroke-opacity: 0.87"/>
    <path d="M 544.581402 471.356977 
L 388.314369 392.746446 
L 387.043722 336.234518 
L 544.444452 412.720512 
z
" clip-path="url(#p2ee48c2b78)" style="fill: #ff0000; fill-opacity: 0.4; stroke: #c40000; stroke-opacity: 0.87"/>
    <path d="M 723.890023 416.363512 
L 544.581402 471.356977 
L 544.444452 412.720512 
L 725.084523 359.207693 
z
" clip-path="url(#p2ee48c2b78)" style="fill: #ff0000; fill-opacity: 0.4; stroke: #c40000; stroke-opacity: 0.87"/>
   </g>
   <g id="Poly3DCollection_6">
    <path d="M 581.236092 312.986762 
L 640.647858 310.00748 
L 641.212655 253.430659 
L 581.371817 256.32265 
z
" clip-path="url(#p2ee48c2b78)" style="fill: #ff0000; fill-opacity: 0.4; stroke: #c40000; stroke-opacity: 0.87"/>
    <path d="M 447.442452 341.054566 
L 581.236092 312.986762 
L 581.371817 256.32265 
L 446.5944 283.572 
z
" clip-path="url(#p2ee48c2b78)" style="fill: #ff0000; fill-opacity: 0.4; stroke: #c40000; stroke-opacity: 0.87"/>
    <path d="M 640.647858 310.00748 
L 706.244316 357.085117 
L 707.31473 299.138283 
L 641.212655 253.430659 
z
" clip-path="url(#p2ee48c2b78)" style="fill: #ff0000; fill-opacity: 0.4; stroke: #c40000; stroke-opacity: 0.87"/>
    <path d="M 387.043722 336.234518 
L 394.189809 334.454754 
L 392.9544 277.164 
L 385.7544 278.892 
z
" clip-path="url(#p2ee48c2b78)" style="fill: #ff0000; fill-opacity: 0.4; stroke: #c40000; stroke-opacity: 0.87"/>
    <path d="M 394.189809 334.454754 
L 416.636823 340.01642 
L 415.5624 282.564 
L 392.9544 277.164 
z
" clip-path="url(#p2ee48c2b78)" style="fill: #ff0000; fill-opacity: 0.4; stroke: #c40000; stroke-opacity: 0.87"/>
    <path d="M 416.636823 340.01642 
L 417.923365 340.044228 
L 416.8584 282.591 
L 415.5624 282.564 
z
" clip-path="url(#p2ee48c2b78)" style="fill: #ff0000; fill-opacity: 0.4; stroke: #c40000; stroke-opacity: 0.87"/>
    <path d="M 417.923365 340.044228 
L 419.281379 340.072035 
L 418.2264 282.618 
L 416.8584 282.591 
z
" clip-path="url(#p2ee48c2b78)" style="fill: #ff0000; fill-opacity: 0.4; stroke: #c40000; stroke-opacity: 0.87"/>
    <path d="M 419.281379 340.072035 
L 420.710867 340.099843 
L 419.6664 282.645 
L 418.2264 282.618 
z
" clip-path="url(#p2ee48c2b78)" style="fill: #ff0000; fill-opacity: 0.4; stroke: #c40000; stroke-opacity: 0.87"/>
    <path d="M 420.710867 340.099843 
L 422.140355 340.12765 
L 421.1064 282.672 
L 419.6664 282.645 
z
" clip-path="url(#p2ee48c2b78)" style="fill: #ff0000; fill-opacity: 0.4; stroke: #c40000; stroke-opacity: 0.87"/>
    <path d="M 422.140355 340.12765 
L 423.569842 340.155458 
L 422.5464 282.699 
L 421.1064 282.672 
z
" clip-path="url(#p2ee48c2b78)" style="fill: #ff0000; fill-opacity: 0.4; stroke: #c40000; stroke-opacity: 0.87"/>
    <path d="M 423.569842 340.155458 
L 425.142275 340.183266 
L 424.1304 282.726 
L 422.5464 282.699 
z
" clip-path="url(#p2ee48c2b78)" style="fill: #ff0000; fill-opacity: 0.4; stroke: #c40000; stroke-opacity: 0.87"/>
    <path d="M 425.142275 340.183266 
L 426.786182 340.211073 
L 425.7864 282.753 
L 424.1304 282.726 
z
" clip-path="url(#p2ee48c2b78)" style="fill: #ff0000; fill-opacity: 0.4; stroke: #c40000; stroke-opacity: 0.87"/>
    <path d="M 426.786182 340.211073 
L 428.358614 340.238881 
L 427.3704 282.78 
L 425.7864 282.753 
z
" clip-path="url(#p2ee48c2b78)" style="fill: #ff0000; fill-opacity: 0.4; stroke: #c40000; stroke-opacity: 0.87"/>
    <path d="M 428.358614 340.238881 
L 430.574834 341.128719 
L 429.6024 283.644 
L 427.3704 282.78 
z
" clip-path="url(#p2ee48c2b78)" style="fill: #ff0000; fill-opacity: 0.4; stroke: #c40000; stroke-opacity: 0.87"/>
    <path d="M 445.584217 341.176554 
L 447.442452 341.054566 
L 446.5944 283.572 
L 444.7224 283.690446 
z
" clip-path="url(#p2ee48c2b78)" style="fill: #ff0000; fill-opacity: 0.4; stroke: #c40000; stroke-opacity: 0.87"/>
    <path d="M 430.574834 341.128719 
L 432.075835 341.235876 
L 431.1144 283.748046 
L 429.6024 283.644 
z
" clip-path="url(#p2ee48c2b78)" style="fill: #ff0000; fill-opacity: 0.4; stroke: #c40000; stroke-opacity: 0.87"/>
    <path d="M 443.79745 341.287326 
L 445.584217 341.176554 
L 444.7224 283.690446 
L 442.9224 283.798003 
z
" clip-path="url(#p2ee48c2b78)" style="fill: #ff0000; fill-opacity: 0.4; stroke: #c40000; stroke-opacity: 0.87"/>
    <path d="M 432.075835 341.235876 
L 433.576827 341.331818 
L 432.6264 283.841203 
L 431.1144 283.748046 
z
" clip-path="url(#p2ee48c2b78)" style="fill: #ff0000; fill-opacity: 0.4; stroke: #c40000; stroke-opacity: 0.87"/>
    <path d="M 441.9392 341.376766 
L 443.79745 341.287326 
L 442.9224 283.798003 
L 441.0504 283.884846 
z
" clip-path="url(#p2ee48c2b78)" style="fill: #ff0000; fill-opacity: 0.4; stroke: #c40000; stroke-opacity: 0.87"/>
    <path d="M 433.576827 341.331818 
L 435.149278 341.406427 
L 434.2104 283.913646 
L 432.6264 283.841203 
z
" clip-path="url(#p2ee48c2b78)" style="fill: #ff0000; fill-opacity: 0.4; stroke: #c40000; stroke-opacity: 0.87"/>
    <path d="M 440.080935 341.436845 
L 441.9392 341.376766 
L 441.0504 283.884846 
L 439.1784 283.94318 
z
" clip-path="url(#p2ee48c2b78)" style="fill: #ff0000; fill-opacity: 0.4; stroke: #c40000; stroke-opacity: 0.87"/>
    <path d="M 435.149278 341.406427 
L 436.721711 341.451675 
L 435.7944 283.95758 
L 434.2104 283.913646 
z
" clip-path="url(#p2ee48c2b78)" style="fill: #ff0000; fill-opacity: 0.4; stroke: #c40000; stroke-opacity: 0.87"/>
    <path d="M 438.365597 341.462406 
L 440.080935 341.436845 
L 439.1784 283.94318 
L 437.4504 283.968 
z
" clip-path="url(#p2ee48c2b78)" style="fill: #ff0000; fill-opacity: 0.4; stroke: #c40000; stroke-opacity: 0.87"/>
    <path d="M 436.721711 341.451675 
L 438.365597 341.462406 
L 437.4504 283.968 
L 435.7944 283.95758 
z
" clip-path="url(#p2ee48c2b78)" style="fill: #ff0000; fill-opacity: 0.4; stroke: #c40000; stroke-opacity: 0.87"/>
    <path d="M 534.12491 407.98993 
L 387.043722 336.234518 
L 385.7544 278.892 
L 533.906954 348.584156 
z
" clip-path="url(#p2ee48c2b78)" style="fill: #ff0000; fill-opacity: 0.4; stroke: #c40000; stroke-opacity: 0.87"/>
    <path d="M 706.244316 357.085117 
L 534.12491 407.98993 
L 533.906954 348.584156 
L 707.31473 299.138283 
z
" clip-path="url(#p2ee48c2b78)" style="fill: #ff0000; fill-opacity: 0.4; stroke: #c40000; stroke-opacity: 0.87"/>
   </g>
  </g>
 </g>
 <defs>
  <clipPath id="p2ee48c2b78">
   <rect x="220.86" y="103.68" width="665.28" height="665.28"/>
  </clipPath>
 </defs>
</svg>

<rect x="21.0" y="68.85" width="209.2" height="129.95" rx="7" ry="7" fill="#f5deb3" fill-opacity="0.88" stroke="#000" stroke-opacity="0.9" stroke-width="1.6"/>
<g font-family='"Liberation Sans", sans-serif'>
<text transform="translate(374.69,25.70) scale(1.0089,1)" font-size="20.00" fill="#000">3D Building on Parcel</text>
<text transform="translate(228.31,49.60) scale(0.9796,1)" font-size="20.29" fill="#000">(Green Platform = Parcel Area, Red Volume = Building)</text>
<text transform="translate(28.17,89.50) scale(0.8968,1)" font-size="16.20" fill="#000">3D BUILDING ANALYSIS</text>
<text transform="translate(28.19,109.30) scale(0.9694,1)" font-size="16.20" fill="#000">Total Parcel Area: 212.0 m<tspan dx="-2.9" dy="-7.6" font-size="7.5" font-weight="bold">2</tspan></text>
<text transform="translate(27.40,128.80) scale(1.0018,1)" font-size="16.20" fill="#000">Building Footprint: 126.8 m<tspan dx="-2.9" dy="-7.6" font-size="7.5" font-weight="bold">2</tspan></text>
<text transform="translate(27.86,148.40) scale(0.9555,1)" font-size="16.20" fill="#000">Uncovered Area: 85.2 m<tspan dx="-2.9" dy="-7.6" font-size="7.5" font-weight="bold">2</tspan></text>
<text transform="translate(27.84,167.90) scale(0.9752,1)" font-size="16.20" fill="#000">Number of Floors: 5</text>
<text transform="translate(28.19,187.20) scale(0.9718,1)" font-size="16.20" fill="#000">Total Floor Area: 524.3 m<tspan dx="-2.9" dy="-7.6" font-size="7.5" font-weight="bold">2</tspan></text>
<text transform="translate(881.54,746.22) rotate(0.00) scale(0.8900,1)" x="-14.92" y="5.28" font-size="15.30" fill="#000">62.5</text>
<text transform="translate(834.66,769.70) rotate(0.00) scale(0.8900,1)" x="-14.99" y="5.28" font-size="15.30" fill="#000">65.0</text>
<text transform="translate(786.91,793.62) rotate(0.00) scale(0.8900,1)" x="-14.92" y="5.28" font-size="15.30" fill="#000">67.5</text>
<text transform="translate(738.27,817.98) rotate(0.00) scale(0.8900,1)" x="-14.99" y="5.28" font-size="15.30" fill="#000">70.0</text>
<text transform="translate(688.71,842.80) rotate(0.00) scale(0.8900,1)" x="-14.92" y="5.28" font-size="15.30" fill="#000">72.5</text>
<text transform="translate(638.21,868.10) rotate(0.00) scale(0.8900,1)" x="-14.99" y="5.28" font-size="15.30" fill="#000">75.0</text>
<text transform="translate(586.74,893.88) rotate(0.00) scale(0.8900,1)" x="-14.92" y="5.20" font-size="15.30" fill="#000">77.5</text>
<text transform="translate(534.27,920.16) rotate(0.00) scale(0.8900,1)" x="-14.92" y="5.28" font-size="15.30" fill="#000">80.0</text>
<text transform="translate(130.17,767.34) rotate(0.00) scale(0.8900,1)" x="-4.21" y="5.20" font-size="15.30" fill="#000">5</text>
<text transform="translate(207.03,805.84) rotate(0.00) scale(0.8900,1)" x="-8.80" y="5.28" font-size="15.30" fill="#000">10</text>
<text transform="translate(286.22,845.51) rotate(0.00) scale(0.8900,1)" x="-8.80" y="5.20" font-size="15.30" fill="#000">15</text>
<text transform="translate(367.84,886.39) rotate(0.00) scale(0.8900,1)" x="-8.57" y="5.28" font-size="15.30" fill="#000">20</text>
<text transform="translate(452.01,928.55) rotate(0.00) scale(0.8900,1)" x="-8.57" y="5.28" font-size="15.30" fill="#000">25</text>
<text transform="translate(44.39,704.11) rotate(0.00) scale(0.8900,1)" x="-4.28" y="5.28" font-size="15.30" fill="#000">0</text>
<text transform="translate(42.29,653.96) rotate(0.00) scale(0.8900,1)" x="-4.28" y="5.36" font-size="15.30" fill="#000">2</text>
<text transform="translate(40.17,603.34) rotate(0.00) scale(0.8900,1)" x="-4.21" y="5.36" font-size="15.30" fill="#000">4</text>
<text transform="translate(38.03,552.22) rotate(0.00) scale(0.8900,1)" x="-4.28" y="5.28" font-size="15.30" fill="#000">6</text>
<text transform="translate(35.87,500.61) rotate(0.00) scale(0.8900,1)" x="-4.21" y="5.28" font-size="15.30" fill="#000">8</text>
<text transform="translate(33.69,448.50) rotate(0.00) scale(0.8900,1)" x="-8.80" y="5.28" font-size="15.30" fill="#000">10</text>
<text transform="translate(31.49,395.89) rotate(0.00) scale(0.8900,1)" x="-8.72" y="5.36" font-size="15.30" fill="#000">12</text>
<text transform="translate(29.27,342.75) rotate(0.00) scale(0.8900,1)" x="-8.87" y="5.28" font-size="15.30" fill="#000">14</text>
<text transform="translate(68.20,759.70) rotate(26.40) scale(0.8600,1)" x="-32.84" y="5.38" font-size="15.60" fill="#000">+5.494e5</text>
<text transform="translate(901.80,760.50) rotate(-26.40) scale(0.8600,1)" x="-32.84" y="5.38" font-size="15.60" fill="#000">+1.941e5</text>
<text transform="translate(238.70,848.50) rotate(26.37) scale(0.9700,1)" x="-40.79" y="4.59" font-size="17.66" fill="#000">Y (meters)</text>
<text transform="translate(729.00,848.70) rotate(-26.37) scale(0.9700,1)" x="-40.97" y="4.59" font-size="17.66" fill="#000">X (meters)</text>
<text transform="translate(3.40,509.20) rotate(87.75) scale(1.0060,1)" x="-61.02" y="4.59" font-size="17.66" fill="#000">Height (meters)</text>
</g>
</svg></body></html>
